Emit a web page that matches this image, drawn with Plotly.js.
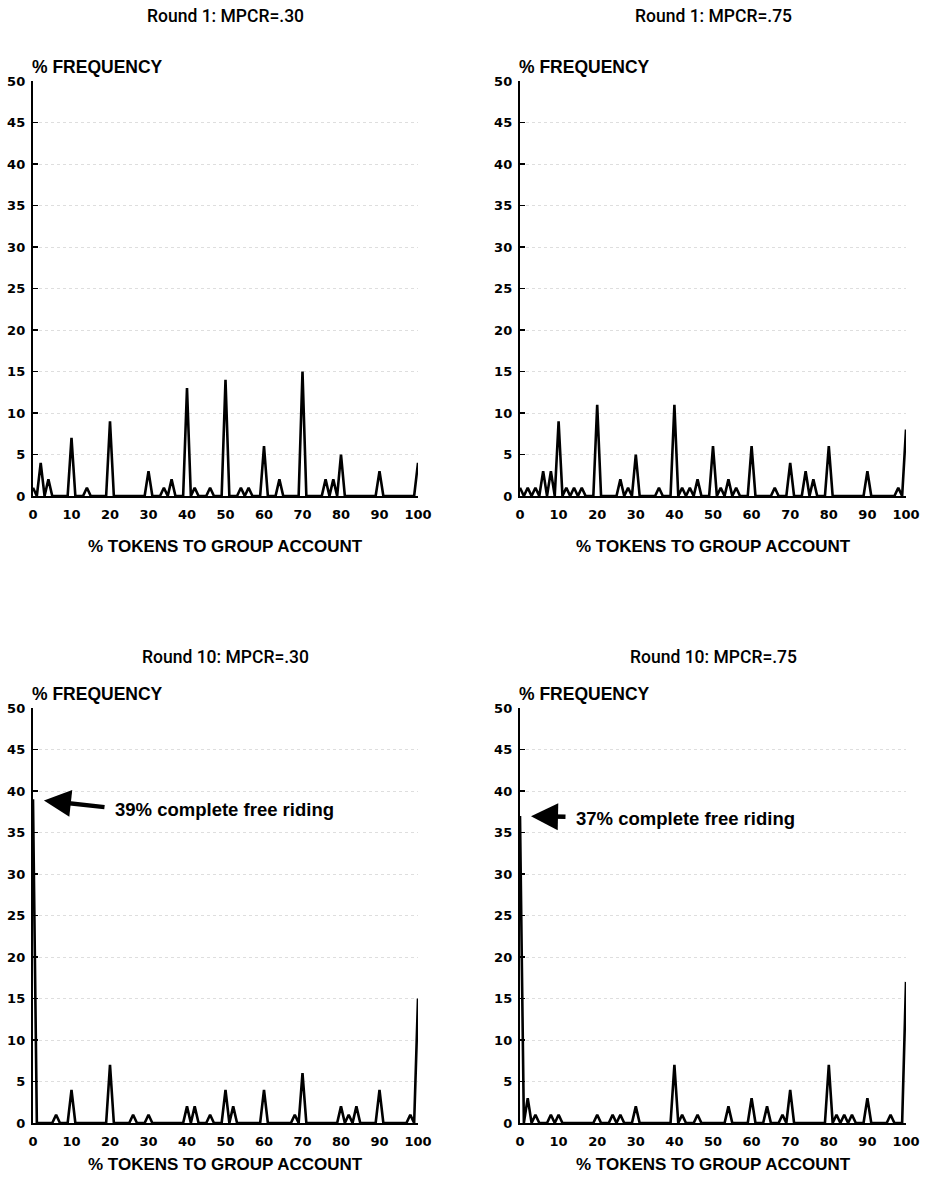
<!DOCTYPE html>
<html>
<head>
<meta charset="utf-8">
<script src="https://cdn.plot.ly/plotly-3.0.1.min.js"></script>
<style>html,body{margin:0;padding:0;background:#fff;}#chart{width:926px;height:1181px;}</style>
</head>
<body>
<div id="chart"></div>
<script>
// % tokens to group account (x categories)
const pctTokens = [
  0,1,2,3,4,5,6,7,8,9,
  10,11,12,13,14,15,16,17,18,19,
  20,21,22,23,24,25,26,27,28,29,
  30,31,32,33,34,35,36,37,38,39,
  40,41,42,43,44,45,46,47,48,49,
  50,51,52,53,54,55,56,57,58,59,
  60,61,62,63,64,65,66,67,68,69,
  70,71,72,73,74,75,76,77,78,79,
  80,81,82,83,84,85,86,87,88,89,
  90,91,92,93,94,95,96,97,98,99,
  100];

// % frequency, Round 1, MPCR = .30
const round1_mpcr30 = [
  1,0,4,0,2,0,0,0,0,0,
  7,0,0,0,1,0,0,0,0,0,
  9,0,0,0,0,0,0,0,0,0,
  3,0,0,0,1,0,2,0,0,0,
  13,0,1,0,0,0,1,0,0,0,
  14,0,0,0,1,0,1,0,0,0,
  6,0,0,0,2,0,0,0,0,0,
  15,0,0,0,0,0,2,0,2,0,
  5,0,0,0,0,0,0,0,0,0,
  3,0,0,0,0,0,0,0,0,0,
  4];

// % frequency, Round 1, MPCR = .75
const round1_mpcr75 = [
  1,0,1,0,1,0,3,0,3,0,
  9,0,1,0,1,0,1,0,0,0,
  11,0,0,0,0,0,2,0,1,0,
  5,0,0,0,0,0,1,0,0,0,
  11,0,1,0,1,0,2,0,0,0,
  6,0,1,0,2,0,1,0,0,0,
  6,0,0,0,0,0,1,0,0,0,
  4,0,0,0,3,0,2,0,0,0,
  6,0,0,0,0,0,0,0,0,0,
  3,0,0,0,0,0,0,0,1,0,
  8];

// % frequency, Round 10, MPCR = .30
const round10_mpcr30 = [
  39,0,0,0,0,0,1,0,0,0,
  4,0,0,0,0,0,0,0,0,0,
  7,0,0,0,0,0,1,0,0,0,
  1,0,0,0,0,0,0,0,0,0,
  2,0,2,0,0,0,1,0,0,0,
  4,0,2,0,0,0,0,0,0,0,
  4,0,0,0,0,0,0,0,1,0,
  6,0,0,0,0,0,0,0,0,0,
  2,0,1,0,2,0,0,0,0,0,
  4,0,0,0,0,0,0,0,1,0,
  15];

// % frequency, Round 10, MPCR = .75
const round10_mpcr75 = [
  37,0,3,0,1,0,0,0,1,0,
  1,0,0,0,0,0,0,0,0,0,
  1,0,0,0,1,0,1,0,0,0,
  2,0,0,0,0,0,0,0,0,0,
  7,0,1,0,0,0,1,0,0,0,
  0,0,0,0,2,0,0,0,0,0,
  3,0,0,0,2,0,0,0,1,0,
  4,0,0,0,0,0,0,0,0,0,
  7,0,1,0,1,0,1,0,0,0,
  3,0,0,0,0,0,1,0,0,0,
  17];

const panelTitles = ["Round 1: MPCR=.30", "Round 1: MPCR=.75", "Round 10: MPCR=.30", "Round 10: MPCR=.75"];
const xTickVals = [0,10,20,30,40,50,60,70,80,90,100];
const yTickVals = [0,5,10,15,20,25,30,35,40,45,50];
const yAxisLabel = "% FREQUENCY";
const xAxisLabel = "% TOKENS TO GROUP ACCOUNT";
const freeRideNotes = ["39% complete free riding", "37% complete free riding"];
const freeRideValues = [39, 37];

const W = 926, H = 1181;
const px = v => v / W;
const py = v => 1 - v / H;

const series = [round1_mpcr30, round1_mpcr75, round10_mpcr30, round10_mpcr75];
// pixel geometry of each panel: [left, right, top, bottom]
const geom = [
  [33, 418, 81, 496],
  [520, 906, 81, 496],
  [33, 418, 708, 1123],
  [520, 906, 708, 1123]
];
const titleY = [16, 16, 657, 657];
const freqY = [67, 67, 694, 694];
const xTitleY = [546, 546, 1164, 1164];

const traces = series.map((s, i) => ({
  x: pctTokens, y: s, type: 'scatter', mode: 'lines',
  xaxis: 'x' + (i ? i + 1 : ''), yaxis: 'y' + (i ? i + 1 : ''),
  line: {color: '#000', width: 2.6},
  hoverinfo: 'skip', showlegend: false
}));

const tickFont = {family: 'DejaVu Sans', size: 13, color: '#000', weight: 700};
const layout = {
  width: W, height: H,
  margin: {l: 0, r: 0, t: 0, b: 0},
  paper_bgcolor: '#fff', plot_bgcolor: '#fff',
  showlegend: false,
  annotations: [],
  font: {family: 'Liberation Sans', color: '#000'}
};

geom.forEach((g, i) => {
  const sx = i ? String(i + 1) : '';
  layout['xaxis' + sx] = {
    domain: [px(g[0]), px(g[1])], range: [0, 100], anchor: 'y' + sx,
    tickmode: 'array', tickvals: xTickVals, ticktext: xTickVals.map(String),
    ticks: 'outside', ticklen: 5, tickcolor: 'rgba(0,0,0,0)',
    tickfont: tickFont, showgrid: false, zeroline: false,
    showline: true, linecolor: '#000', linewidth: 2, fixedrange: true
  };
  layout['yaxis' + sx] = {
    domain: [py(g[3]), py(g[2])], range: [0, 50], anchor: 'x' + sx,
    tickmode: 'array', tickvals: yTickVals, ticktext: yTickVals.map(String),
    ticks: 'inside', ticklen: 5, tickwidth: 1.5, tickcolor: '#000',
    ticklabelstandoff: 3,
    tickfont: tickFont, showgrid: true, gridcolor: '#dedede', griddash: 'dot', gridwidth: 1,
    zeroline: false, showline: true, linecolor: '#000', linewidth: 2.2, fixedrange: true
  };
  const cx = (g[0] + g[1]) / 2;
  layout.annotations.push({
    xref: 'paper', yref: 'paper', x: px(cx), y: py(titleY[i]),
    xanchor: 'center', yanchor: 'middle', showarrow: false,
    text: panelTitles[i], font: {family: 'Roboto', size: 17.5, color: '#000', weight: 500}
  });
  layout.annotations.push({
    xref: 'paper', yref: 'paper', x: px(g[0] - 3), y: py(freqY[i]),
    xanchor: 'left', yanchor: 'middle', showarrow: false,
    text: yAxisLabel, font: {family: 'Liberation Sans', size: 17.5, color: '#000', weight: 700}
  });
  layout.annotations.push({
    xref: 'paper', yref: 'paper', x: px(cx), y: py(xTitleY[i]),
    xanchor: 'center', yanchor: 'middle', showarrow: false,
    text: xAxisLabel, font: {family: 'Liberation Sans', size: 17, color: '#000', weight: 700}
  });
});

// free-riding call-outs on the Round 10 panels
[[2, 0], [3, 1]].forEach(([pi, k]) => {
  const sx = String(pi + 1);
  const tail = pi === 2 ? 73 : 47;
  const tailDy = pi === 2 ? 8 : 1;
  layout.annotations.push({
    xref: 'x' + sx, yref: 'y' + sx, x: 0, y: freeRideValues[k],
    ax: tail, ay: tailDy, axref: 'pixel', ayref: 'pixel',
    text: '', showarrow: true, arrowhead: 2, arrowsize: 1.2, arrowwidth: 4.5,
    arrowcolor: '#000', standoff: 11
  });
  layout.annotations.push({
    xref: 'x' + sx, yref: 'y' + sx, x: (tail + 7) / 3.85, y: freeRideValues[k] - (tailDy + 2) / 8.3,
    xanchor: 'left', yanchor: 'middle', showarrow: false,
    text: freeRideNotes[k], font: {family: 'Liberation Sans', size: 18.5, color: '#000', weight: 700}
  });
});

Plotly.newPlot('chart', traces, layout, {staticPlot: true, displayModeBar: false});
</script>
</body>
</html>
